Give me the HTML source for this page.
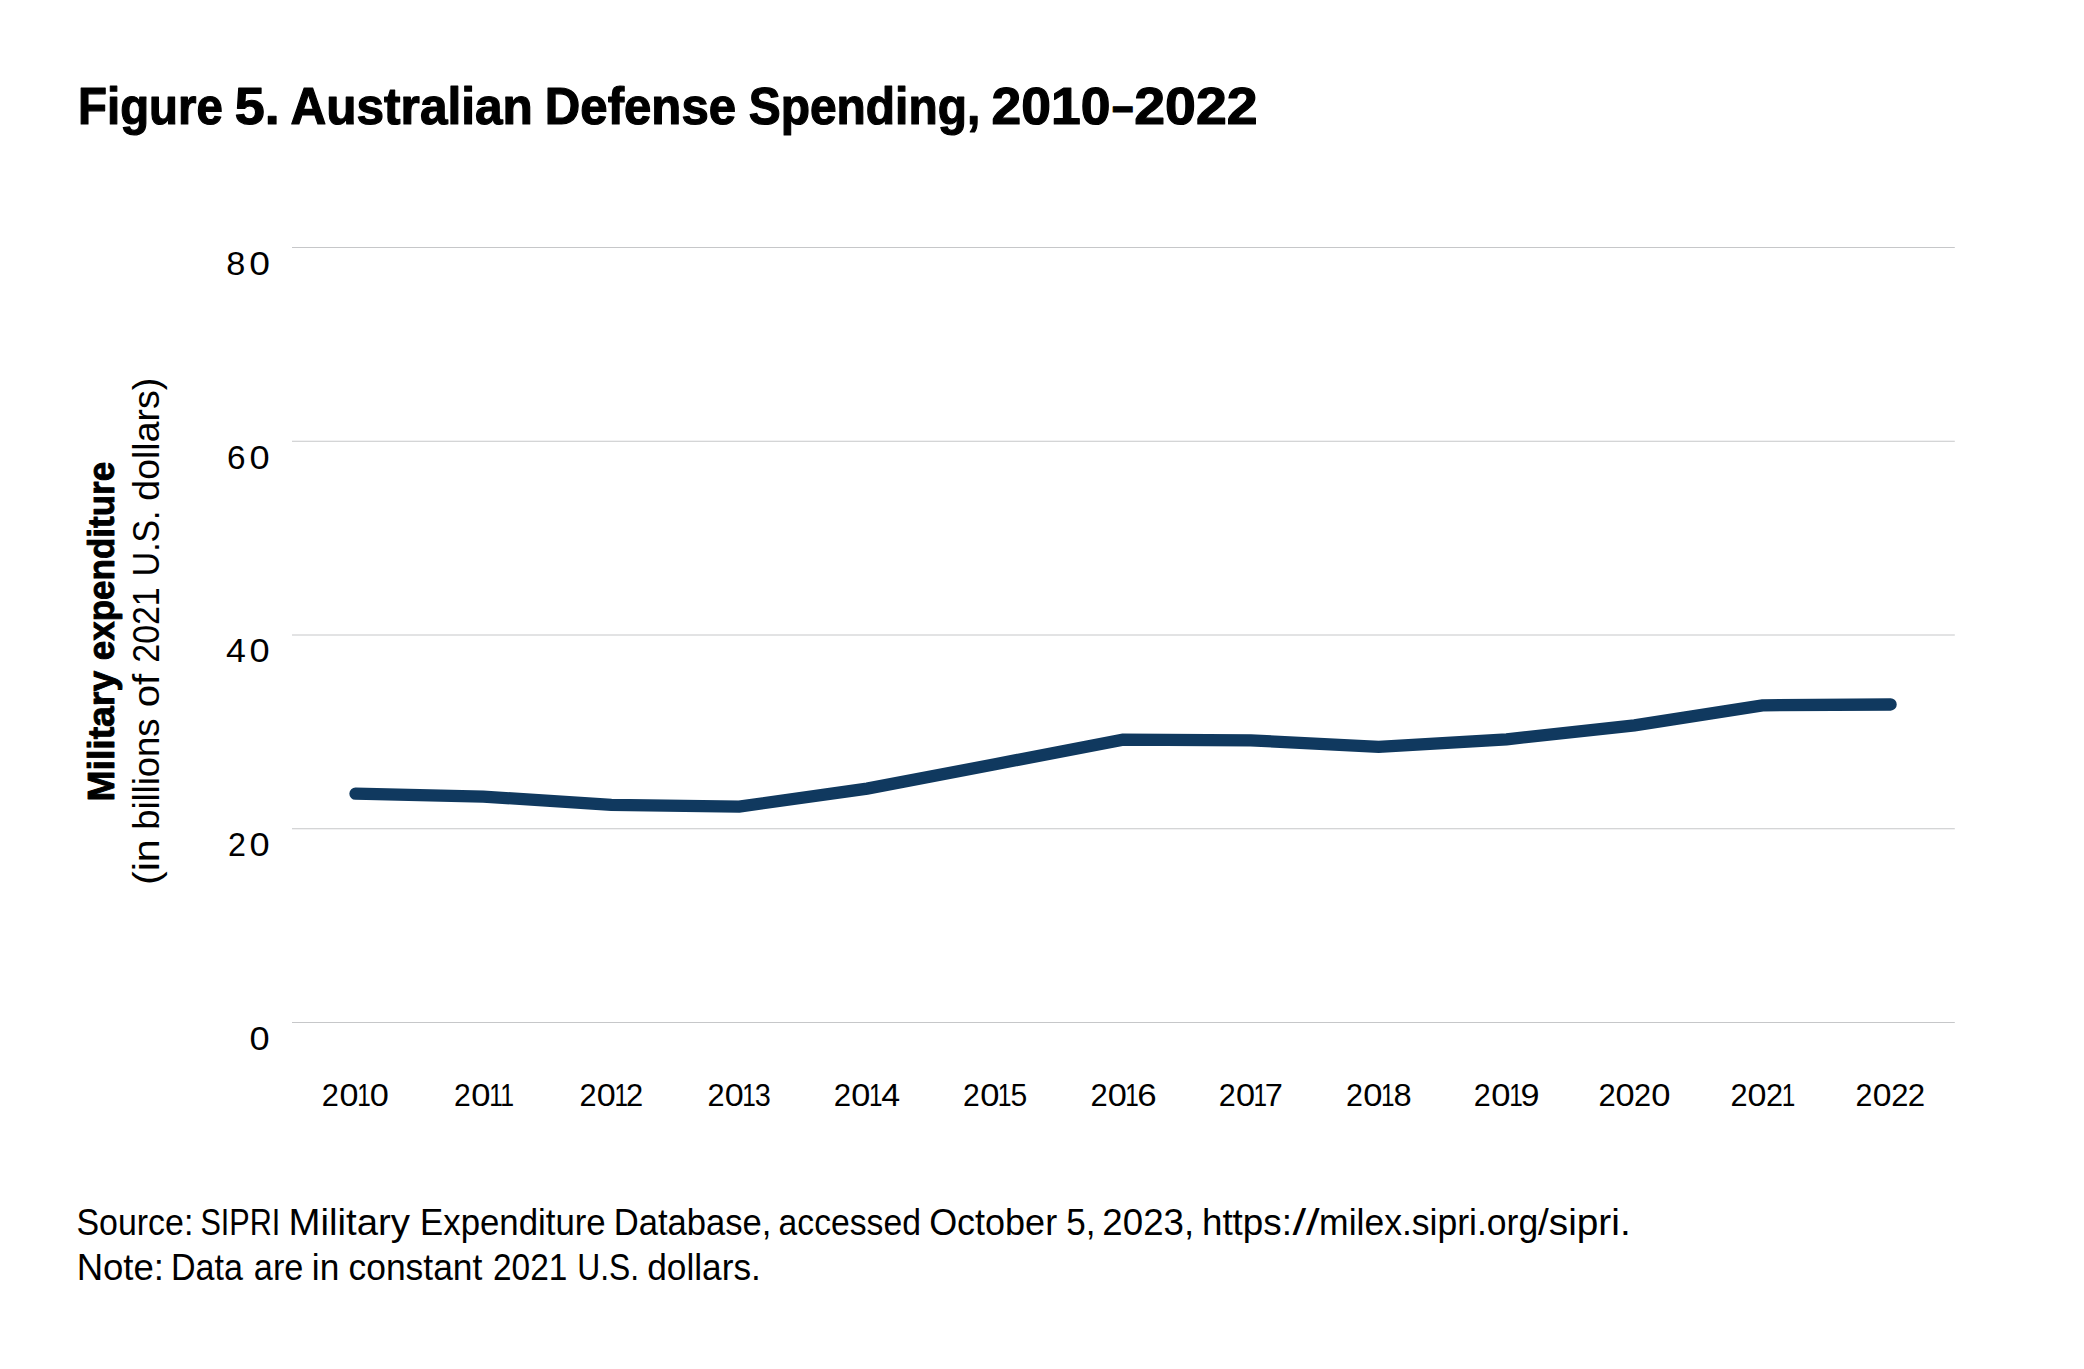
<!DOCTYPE html>
<html lang="en">
<head>
<meta charset="utf-8">
<title>Figure 5. Australian Defense Spending, 2010–2022</title>
<style>
html,body{margin:0;padding:0;background:#fff;}
body{width:2084px;height:1369px;overflow:hidden;font-family:"Liberation Sans",sans-serif;}
main,figure{margin:0;padding:0;display:block;}
svg{display:block;position:absolute;left:0;top:0;}
text{font-family:"Liberation Sans",sans-serif;fill:#000;white-space:pre;}
.grid line{stroke:#c6c7c9;stroke-width:1;}
</style>
</head>
<body>
<main>
<figure>
<svg role="img" aria-label="Line chart of Australian military expenditure, 2010 to 2022" width="2084" height="1369" viewBox="0 0 2084 1369">
<rect width="2084" height="1369" fill="#fff"/>
<g class="grid">
<line x1="292" x2="1954.8" y1="247.5" y2="247.5"/>
<line x1="292" x2="1954.8" y1="441.25" y2="441.25"/>
<line x1="292" x2="1954.8" y1="635" y2="635"/>
<line x1="292" x2="1954.8" y1="828.75" y2="828.75"/>
<line x1="292" x2="1954.8" y1="1022.5" y2="1022.5"/>
</g>
<polyline fill="none" stroke="#10395f" stroke-width="12.3" stroke-linecap="round" stroke-linejoin="miter"
 points="355.5,793.7 483.4,796.6 611.3,804.9 739.2,806.6 867.1,788.6 995,764.3 1122.9,739.6 1250.8,740.3 1378.7,746.9 1506.6,739.3 1634.5,725.3 1762.4,705.3 1890.6,704.5"/>
<text id="title" font-size="51.6" font-weight="700" stroke="#000" stroke-width="1.2" stroke-linejoin="round" y="124.3"><tspan x="78.04" textLength="144.77" lengthAdjust="spacingAndGlyphs">Figure</tspan> <tspan x="234.78" textLength="44.87" lengthAdjust="spacingAndGlyphs">5.</tspan> <tspan x="290.40" textLength="242.52" lengthAdjust="spacingAndGlyphs">Australian</tspan> <tspan x="544.87" textLength="191.19" lengthAdjust="spacingAndGlyphs">Defense</tspan> <tspan x="748.70" textLength="231.59" lengthAdjust="spacingAndGlyphs">Spending,</tspan> <tspan x="991.59" textLength="118.82" lengthAdjust="spacingAndGlyphs">2010</tspan><tspan x="1112.11" dy="-1.2" textLength="21.52" lengthAdjust="spacingAndGlyphs">–</tspan><tspan x="1134.29" dy="1.2" textLength="123.29" lengthAdjust="spacingAndGlyphs">2022</tspan></text>
<text id="src" font-size="36" y="1234.7"><tspan x="76.53" textLength="116.80" lengthAdjust="spacingAndGlyphs">Source:</tspan> <tspan x="200.47" textLength="79.91" lengthAdjust="spacingAndGlyphs">SIPRI</tspan> <tspan x="288.51" textLength="121.41" lengthAdjust="spacingAndGlyphs">Military</tspan> <tspan x="420.12" textLength="185.54" lengthAdjust="spacingAndGlyphs">Expenditure</tspan> <tspan x="613.74" textLength="157.73" lengthAdjust="spacingAndGlyphs">Database,</tspan> <tspan x="778.55" textLength="142.36" lengthAdjust="spacingAndGlyphs">accessed</tspan> <tspan x="929.13" textLength="127.99" lengthAdjust="spacingAndGlyphs">October</tspan> <tspan x="1066.26" textLength="29.27" lengthAdjust="spacingAndGlyphs">5,</tspan> <tspan x="1102.39" textLength="91.73" lengthAdjust="spacingAndGlyphs">2023,</tspan> <tspan x="1201.94" textLength="90.01" lengthAdjust="spacingAndGlyphs">https:</tspan><tspan x="1292.44" textLength="27.31" lengthAdjust="spacingAndGlyphs">//</tspan><tspan x="1319.08" textLength="219.06" lengthAdjust="spacingAndGlyphs">milex.sipri.org</tspan><tspan x="1538.01" textLength="92.67" lengthAdjust="spacingAndGlyphs">/sipri.</tspan></text>
<text id="note" font-size="36" y="1279.8"><tspan x="76.65" textLength="87.38" lengthAdjust="spacingAndGlyphs">Note:</tspan> <tspan x="170.95" textLength="71.89" lengthAdjust="spacingAndGlyphs">Data</tspan> <tspan x="253.84" textLength="49.55" lengthAdjust="spacingAndGlyphs">are</tspan> <tspan x="311.86" textLength="27.46" lengthAdjust="spacingAndGlyphs">in</tspan> <tspan x="348.54" textLength="133.86" lengthAdjust="spacingAndGlyphs">constant</tspan> <tspan x="492.98" textLength="74.33" lengthAdjust="spacingAndGlyphs">2021</tspan> <tspan x="577.26" textLength="61.86" lengthAdjust="spacingAndGlyphs">U.S.</tspan> <tspan x="647.16" textLength="113.73" lengthAdjust="spacingAndGlyphs">dollars.</tspan></text>
<text id="yt1" font-size="37.2" font-weight="700" stroke="#000" stroke-width="0.9" stroke-linejoin="round" transform="rotate(-90)" y="114.2"><tspan x="-801.63" textLength="130.81" lengthAdjust="spacingAndGlyphs">Military</tspan> <tspan x="-660.25" textLength="198.46" lengthAdjust="spacingAndGlyphs">expenditure</tspan></text>
<text id="yt2" font-size="36" transform="rotate(-90)" y="159"><tspan x="-885.13" textLength="46.01" lengthAdjust="spacingAndGlyphs">(in</tspan> <tspan x="-829.85" textLength="111.27" lengthAdjust="spacingAndGlyphs">billions</tspan> <tspan x="-707.30" textLength="33.62" lengthAdjust="spacingAndGlyphs">of</tspan> <tspan x="-662.65" textLength="75.30" lengthAdjust="spacingAndGlyphs">2021</tspan> <tspan x="-576.26" textLength="65.68" lengthAdjust="spacingAndGlyphs">U.S.</tspan> <tspan x="-500.73" textLength="123.03" lengthAdjust="spacingAndGlyphs">dollars)</tspan></text>
<text id="x2010" font-size="32.2" y="1106.0"><tspan x="321.65" textLength="17.09" lengthAdjust="spacingAndGlyphs">2</tspan><tspan x="339.57" textLength="18.96" lengthAdjust="spacingAndGlyphs">0</tspan><tspan x="357.24" textLength="13.54" lengthAdjust="spacingAndGlyphs">1</tspan><tspan x="369.66" textLength="19.08" lengthAdjust="spacingAndGlyphs">0</tspan></text>
<text id="x2011" font-size="32.2" y="1106.0"><tspan x="453.99" textLength="16.72" lengthAdjust="spacingAndGlyphs">2</tspan><tspan x="471.25" textLength="19.20" lengthAdjust="spacingAndGlyphs">0</tspan><tspan x="489.24" textLength="13.54" lengthAdjust="spacingAndGlyphs">1</tspan><tspan x="500.31" textLength="13.80" lengthAdjust="spacingAndGlyphs">1</tspan></text>
<text id="x2012" font-size="32.2" y="1106.0"><tspan x="579.55" textLength="17.09" lengthAdjust="spacingAndGlyphs">2</tspan><tspan x="596.67" textLength="18.96" lengthAdjust="spacingAndGlyphs">0</tspan><tspan x="614.44" textLength="13.54" lengthAdjust="spacingAndGlyphs">1</tspan><tspan x="625.94" textLength="17.21" lengthAdjust="spacingAndGlyphs">2</tspan></text>
<text id="x2013" font-size="32.2" y="1106.0"><tspan x="707.55" textLength="17.09" lengthAdjust="spacingAndGlyphs">2</tspan><tspan x="724.67" textLength="18.96" lengthAdjust="spacingAndGlyphs">0</tspan><tspan x="742.34" textLength="13.54" lengthAdjust="spacingAndGlyphs">1</tspan><tspan x="754.70" textLength="16.07" lengthAdjust="spacingAndGlyphs">3</tspan></text>
<text id="x2014" font-size="32.2" y="1106.0"><tspan x="833.73" textLength="17.34" lengthAdjust="spacingAndGlyphs">2</tspan><tspan x="851.36" textLength="19.08" lengthAdjust="spacingAndGlyphs">0</tspan><tspan x="869.04" textLength="13.54" lengthAdjust="spacingAndGlyphs">1</tspan><tspan x="881.22" textLength="18.87" lengthAdjust="spacingAndGlyphs">4</tspan></text>
<text id="x2015" font-size="32.2" y="1106.0"><tspan x="963.09" textLength="16.72" lengthAdjust="spacingAndGlyphs">2</tspan><tspan x="980.25" textLength="19.20" lengthAdjust="spacingAndGlyphs">0</tspan><tspan x="997.81" textLength="13.80" lengthAdjust="spacingAndGlyphs">1</tspan><tspan x="1010.39" textLength="16.77" lengthAdjust="spacingAndGlyphs">5</tspan></text>
<text id="x2016" font-size="32.2" y="1106.0"><tspan x="1090.54" textLength="17.21" lengthAdjust="spacingAndGlyphs">2</tspan><tspan x="1107.66" textLength="19.08" lengthAdjust="spacingAndGlyphs">0</tspan><tspan x="1125.34" textLength="13.54" lengthAdjust="spacingAndGlyphs">1</tspan><tspan x="1137.33" textLength="19.41" lengthAdjust="spacingAndGlyphs">6</tspan></text>
<text id="x2017" font-size="32.2" y="1106.0"><tspan x="1218.87" textLength="16.97" lengthAdjust="spacingAndGlyphs">2</tspan><tspan x="1235.96" textLength="19.08" lengthAdjust="spacingAndGlyphs">0</tspan><tspan x="1253.44" textLength="13.54" lengthAdjust="spacingAndGlyphs">1</tspan><tspan x="1264.63" textLength="18.11" lengthAdjust="spacingAndGlyphs">7</tspan></text>
<text id="x2018" font-size="32.2" y="1106.0"><tspan x="1345.97" textLength="16.97" lengthAdjust="spacingAndGlyphs">2</tspan><tspan x="1363.25" textLength="19.20" lengthAdjust="spacingAndGlyphs">0</tspan><tspan x="1380.94" textLength="13.54" lengthAdjust="spacingAndGlyphs">1</tspan><tspan x="1393.48" textLength="18.13" lengthAdjust="spacingAndGlyphs">8</tspan></text>
<text id="x2019" font-size="32.2" y="1106.0"><tspan x="1473.87" textLength="16.97" lengthAdjust="spacingAndGlyphs">2</tspan><tspan x="1491.15" textLength="19.20" lengthAdjust="spacingAndGlyphs">0</tspan><tspan x="1509.14" textLength="13.54" lengthAdjust="spacingAndGlyphs">1</tspan><tspan x="1520.50" textLength="19.02" lengthAdjust="spacingAndGlyphs">9</tspan></text>
<text id="x2020" font-size="32.2" y="1106.0"><tspan x="1598.44" textLength="17.21" lengthAdjust="spacingAndGlyphs">2</tspan><tspan x="1615.56" textLength="19.08" lengthAdjust="spacingAndGlyphs">0</tspan><tspan x="1634.05" textLength="17.09" lengthAdjust="spacingAndGlyphs">2</tspan><tspan x="1651.15" textLength="19.20" lengthAdjust="spacingAndGlyphs">0</tspan></text>
<text id="x2021" font-size="32.2" y="1106.0"><tspan x="1730.45" textLength="17.09" lengthAdjust="spacingAndGlyphs">2</tspan><tspan x="1747.57" textLength="18.96" lengthAdjust="spacingAndGlyphs">0</tspan><tspan x="1766.05" textLength="17.09" lengthAdjust="spacingAndGlyphs">2</tspan><tspan x="1781.64" textLength="13.54" lengthAdjust="spacingAndGlyphs">1</tspan></text>
<text id="x2022" font-size="32.2" y="1106.0"><tspan x="1855.48" textLength="16.85" lengthAdjust="spacingAndGlyphs">2</tspan><tspan x="1872.68" textLength="18.73" lengthAdjust="spacingAndGlyphs">0</tspan><tspan x="1891.24" textLength="17.21" lengthAdjust="spacingAndGlyphs">2</tspan><tspan x="1907.73" textLength="17.34" lengthAdjust="spacingAndGlyphs">2</tspan></text>
<text id="y80" font-size="33.2" y="274.8"><tspan x="226.21" textLength="19.08" lengthAdjust="spacingAndGlyphs">8</tspan><tspan x="249.25" textLength="20.71" lengthAdjust="spacingAndGlyphs">0</tspan></text>
<text id="y60" font-size="33.2" y="468.55"><tspan x="227.11" textLength="18.56" lengthAdjust="spacingAndGlyphs">6</tspan><tspan x="249.59" textLength="20.13" lengthAdjust="spacingAndGlyphs">0</tspan></text>
<text id="y40" font-size="33.2" y="662.3"><tspan x="226.08" textLength="19.87" lengthAdjust="spacingAndGlyphs">4</tspan><tspan x="249.59" textLength="20.13" lengthAdjust="spacingAndGlyphs">0</tspan></text>
<text id="y20" font-size="33.2" y="856.05"><tspan x="228.08" textLength="17.95" lengthAdjust="spacingAndGlyphs">2</tspan><tspan x="249.59" textLength="20.13" lengthAdjust="spacingAndGlyphs">0</tspan></text>
<text id="y0" font-size="33.2" y="1049.8"><tspan x="249.59" textLength="20.13" lengthAdjust="spacingAndGlyphs">0</tspan></text>
</svg>
</figure>
</main>
</body>
</html>
